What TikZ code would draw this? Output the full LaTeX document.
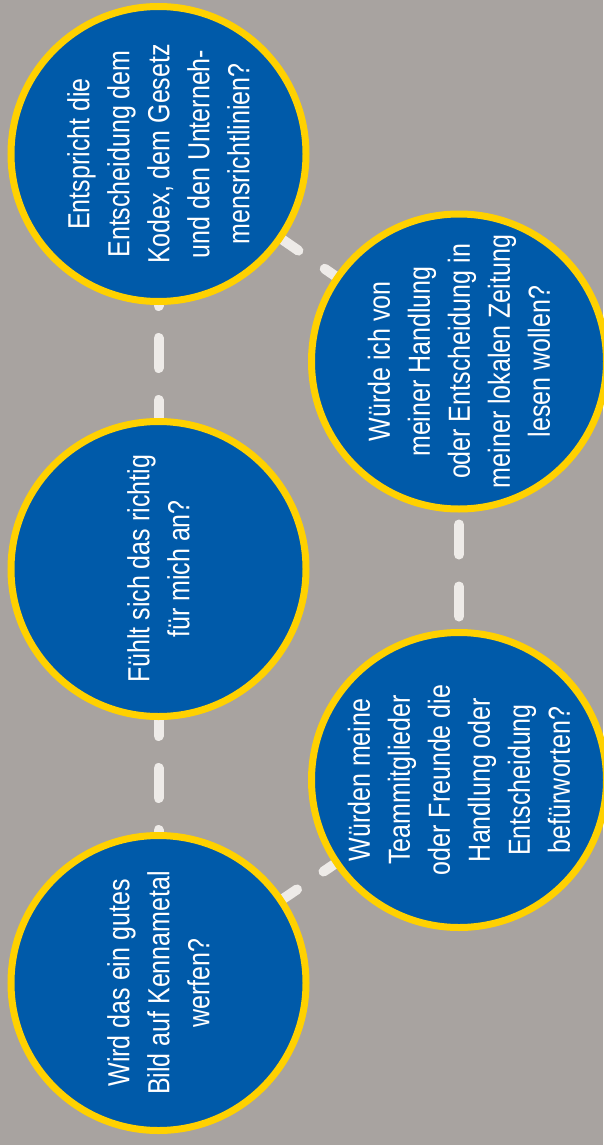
\documentclass[tikz,border=0pt]{standalone}
\usepackage{fontspec}
\newfontfamily\fragefont[FakeStretch=0.82]{Liberation Sans}
\usetikzlibrary{positioning}
\pgfdeclarelayer{background}
\pgfsetlayers{background,main}
\definecolor{grund}{HTML}{A8A3A0}
\definecolor{kblau}{HTML}{005AA9}
\definecolor{kgelb}{HTML}{FFD100}
\definecolor{strich}{HTML}{EEEBE8}
\tikzstyle{frage}=[circle, draw=kgelb, line width=7pt, fill=kblau,
  minimum size=295pt, inner sep=0pt]
\tikzstyle{fragetext}=[text=white, align=center, rotate=90, inner sep=0pt,
  font=\fragefont\fontsize{30.5}{40}\selectfont]
\tikzstyle{link}=[draw=strich, line width=10pt, line cap=round,
  dash pattern=on 30pt off 32pt]
\newcommand{\frage}[2]{node (f#1) [frage] {}
  node (t#1) [fragetext] at (f#1.center) {#2}}
\newcommand{\verbindung}[3]{%
  \path [link, dash phase=#3] (#1.center) -- (#2.center);}

\begin{document}
\begin{tikzpicture}[x=1pt,y=-1pt]
  \useasboundingbox (0,0) rectangle (603,1145);

  % Draw the questions
  \path (158.5,154) \frage{1}{Entspricht die\\Entscheidung dem\\Kodex, dem Gesetz\\und den Unterneh-\\mensrichtlinien?};
  \path (f1.center)+(300.5,207.5) \frage{2}{W\"urde ich von\\meiner Handlung\\oder Entscheidung in\\meiner lokalen Zeitung\\lesen wollen?};
  \path (f1.center)+(0,415) \frage{3}{F\"uhlt sich das richtig\\f\"ur mich an?};
  \path (f2.center)+(0,418.5) \frage{4}{W\"urden meine\\Teammitglieder\\oder Freunde die\\Handlung oder\\Entscheidung\\bef\"urworten?};
  \path (f3.center)+(0,414) \frage{5}{Wird das ein gutes\\Bild auf Kennametal\\werfen?};

  % Draw the dashed links behind the circles
  \begin{pgfonlayer}{background}
    \fill [grund] (0,0) rectangle (603,1145);
    \verbindung{f1}{f2}{46pt}
    \verbindung{f1}{f3}{2pt}
    \verbindung{f2}{f4}{23pt}
    \verbindung{f3}{f5}{49pt}
    \verbindung{f4}{f5}{52.5pt}
  \end{pgfonlayer}
\end{tikzpicture}
\end{document}
